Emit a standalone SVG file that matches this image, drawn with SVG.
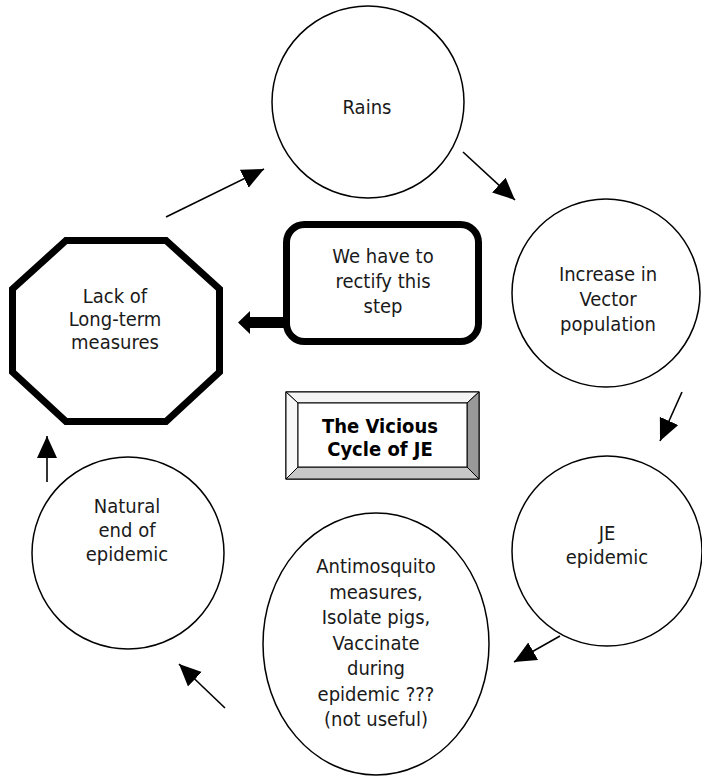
<svg xmlns="http://www.w3.org/2000/svg" width="702" height="777" viewBox="0 0 702 777">
<style>
.t{font-family:"DejaVu Sans Condensed","DejaVu Sans",sans-serif;font-size:20px;fill:#1a1a1a;text-anchor:middle}
.b{font-weight:bold;fill:#000}
.n{fill:#fff;stroke:#000;stroke-width:1.5}
.k{fill:#fff;stroke:#000;stroke-width:7}
.c{stroke:#000;stroke-width:1.6;fill:none;marker-end:url(#ah)}
</style>
<defs>
<marker id="ah" markerUnits="userSpaceOnUse" markerWidth="24" markerHeight="22" refX="22" refY="10" orient="auto">
<path d="M0,0 L22,10 L0,20 Z" fill="#000"/>
</marker>
</defs>
<rect width="702" height="777" fill="#fff"/>
<g id="rains"><circle class="n" cx="368" cy="102" r="96"/><text class="t" x="367" y="114">Rains</text></g>
<g id="vector"><circle class="n" cx="606" cy="293" r="94"/><text class="t" x="608" y="281">Increase in</text><text class="t" x="608" y="306">Vector</text><text class="t" x="608" y="331">population</text></g>
<g id="je"><circle class="n" cx="607" cy="551" r="95"/><text class="t" x="607" y="540">JE</text><text class="t" x="607" y="564">epidemic</text></g>
<g id="measures"><ellipse class="n" cx="376" cy="644" rx="113" ry="131"/>
<text class="t" x="376" y="573">Antimosquito</text><text class="t" x="376" y="598.5">measures,</text><text class="t" x="376" y="624">Isolate pigs,</text><text class="t" x="376" y="649.5">Vaccinate</text><text class="t" x="376" y="675">during</text><text class="t" x="376" y="700.5">epidemic ???</text><text class="t" x="376" y="726">(not useful)</text></g>
<g id="natural"><circle class="n" cx="128" cy="553" r="96"/><text class="t" x="127" y="513">Natural</text><text class="t" x="127" y="537">end of</text><text class="t" x="127" y="561">epidemic</text></g>
<g id="lack"><polygon class="k" stroke-linejoin="miter" points="66,240.5 166,240.5 219.5,289 219.5,372 166,421.5 66,421.5 12.5,372 12.5,289"/>
<text class="t" x="115" y="303">Lack of</text><text class="t" x="115" y="326">Long-term</text><text class="t" x="115" y="349">measures</text></g>
<g id="rectify"><rect class="k" x="286.5" y="224.5" width="192" height="117" rx="18"/>
<text class="t" x="383" y="263">We have to</text><text class="t" x="383" y="288">rectify this</text><text class="t" x="383" y="313">step</text></g>
<g id="title">
<rect x="286" y="392" width="193" height="87" fill="#fff" stroke="#000" stroke-width="1.2"/>
<polygon points="286,392 479,392 467,403 298,403" fill="#f4f4f4" stroke="#000" stroke-width="1"/>
<polygon points="286,392 298,403 298,467 286,479" fill="#f8f8f8" stroke="#000" stroke-width="1"/>
<polygon points="479,392 479,479 467,467 467,403" fill="#999" stroke="#000" stroke-width="1"/>
<polygon points="286,479 298,467 467,467 479,479" fill="#c8c8c8" stroke="#000" stroke-width="1"/>
<rect x="298" y="403" width="169" height="64" fill="#fff" stroke="#000" stroke-width="1"/>
<text class="t b" x="380" y="433">The Vicious</text><text class="t b" x="380" y="456">Cycle of JE</text></g>
<g id="connectors">
<line class="c" x1="166" y1="217" x2="264" y2="169"/>
<line class="c" x1="463" y1="152" x2="515" y2="200"/>
<line class="c" x1="682" y1="392" x2="660" y2="441"/>
<line class="c" x1="560" y1="636" x2="514" y2="662"/>
<line class="c" x1="225" y1="708" x2="179" y2="664"/>
<line class="c" x1="47" y1="482" x2="47" y2="436"/>
<polygon points="284,317 250,317 250,311 238,322.5 250,334 250,328 284,328" fill="#000"/>
</g>
</svg>
